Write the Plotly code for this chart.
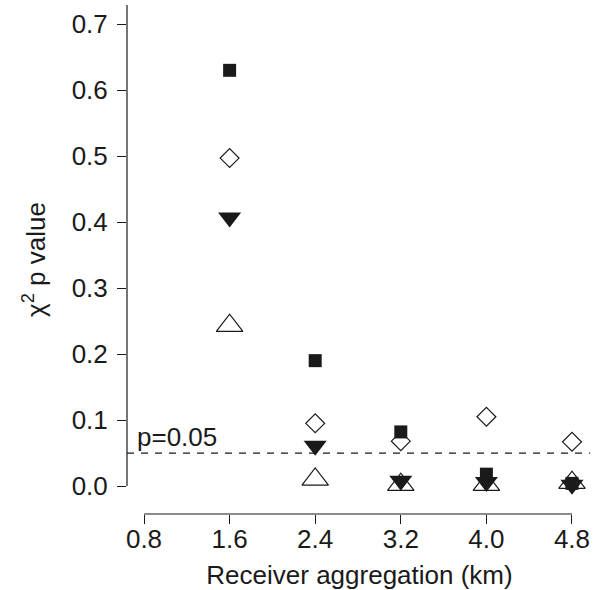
import plotly.graph_objects as go

# Data
aggregation_km = [1.6, 2.4, 3.2, 4.0, 4.8]
square_filled = [0.630, 0.190, 0.082, 0.018, 0.004]
diamond_open = [0.497, 0.095, 0.068, 0.105, 0.067]
tri_down_filled = [0.407, 0.061, 0.008, 0.006, 0.002]
tri_up_open = [0.243, 0.010, 0.002, 0.002, 0.005]

x_ticks = [0.8, 1.6, 2.4, 3.2, 4.0, 4.8]
x_tick_labels = ["0.8", "1.6", "2.4", "3.2", "4.0", "4.8"]
y_ticks = [0.0, 0.1, 0.2, 0.3, 0.4, 0.5, 0.6, 0.7]
y_tick_labels = ["0.0", "0.1", "0.2", "0.3", "0.4", "0.5", "0.6", "0.7"]
p_threshold = 0.05
p_label = "p=0.05"

FONT = "Liberation Sans, Arial, Helvetica, sans-serif"
INK = "#1a1a1a"
FS = 26

fig = go.Figure()

fig.add_trace(go.Scatter(
    x=aggregation_km, y=tri_up_open, mode="markers",
    marker=dict(symbol="triangle-up", size=23, color="white",
                line=dict(color=INK, width=1.2)),
    showlegend=False))
fig.add_trace(go.Scatter(
    x=aggregation_km, y=diamond_open, mode="markers",
    marker=dict(symbol="diamond", size=14.5, color="white",
                line=dict(color=INK, width=1.2)),
    showlegend=False))
fig.add_trace(go.Scatter(
    x=aggregation_km, y=tri_down_filled, mode="markers",
    marker=dict(symbol="triangle-down", size=20, color=INK,
                line=dict(color=INK, width=0)),
    showlegend=False))
fig.add_trace(go.Scatter(
    x=aggregation_km, y=square_filled, mode="markers",
    marker=dict(symbol="square", size=13, color=INK,
                line=dict(color=INK, width=0)),
    showlegend=False))

# threshold line
fig.add_shape(type="line", xref="paper", yref="y",
              x0=0, x1=0.996, y0=p_threshold, y1=p_threshold,
              line=dict(color=INK, width=1.2, dash="7px,7px"))
fig.add_annotation(xref="paper", yref="y", x=0, y=p_threshold,
                   text=p_label, showarrow=False,
                   xanchor="left", yanchor="bottom", xshift=8, yshift=-1,
                   font=dict(family=FONT, size=FS, color=INK))

# axis lines (R-style detached axes)
fig.add_shape(type="line", xref="x", yref="paper",
              x0=x_ticks[0], x1=x_ticks[-1], y0=0, y1=0,
              line=dict(color=INK, width=1.2))
fig.add_shape(type="line", xref="paper", yref="y",
              x0=0, x1=0, y0=y_ticks[0], y1=0.729,
              line=dict(color=INK, width=1.2))

fig.update_layout(
    width=598, height=590,
    margin=dict(l=127, r=6, t=5, b=76),
    plot_bgcolor="white", paper_bgcolor="white",
    font=dict(family=FONT, size=FS, color=INK),
    xaxis=dict(range=[0.641, 4.987], tickvals=x_ticks, ticktext=x_tick_labels,
               ticks="outside", ticklen=9, tickwidth=1.2, tickcolor=INK,
               showgrid=False, zeroline=False, showline=False,
               tickfont=dict(size=FS), ticklabelstandoff=-7,
               title=dict(text="Receiver aggregation (km)", font=dict(size=FS),
                          standoff=13)),
    yaxis=dict(range=[-0.0424, 0.729], tickvals=y_ticks, ticktext=y_tick_labels,
               ticks="outside", ticklen=9, tickwidth=1.2, tickcolor=INK,
               showgrid=False, zeroline=False, showline=False,
               tickfont=dict(size=FS), ticklabelstandoff=4,
               title=dict(text="χ<sup>2</sup> p value", font=dict(size=FS),
                          standoff=18)),
)

fig.write_html(
    "out.html",
    config={"displayModeBar": False},
    post_script="document.body.style.margin='0';document.body.style.overflow='hidden';",
)
